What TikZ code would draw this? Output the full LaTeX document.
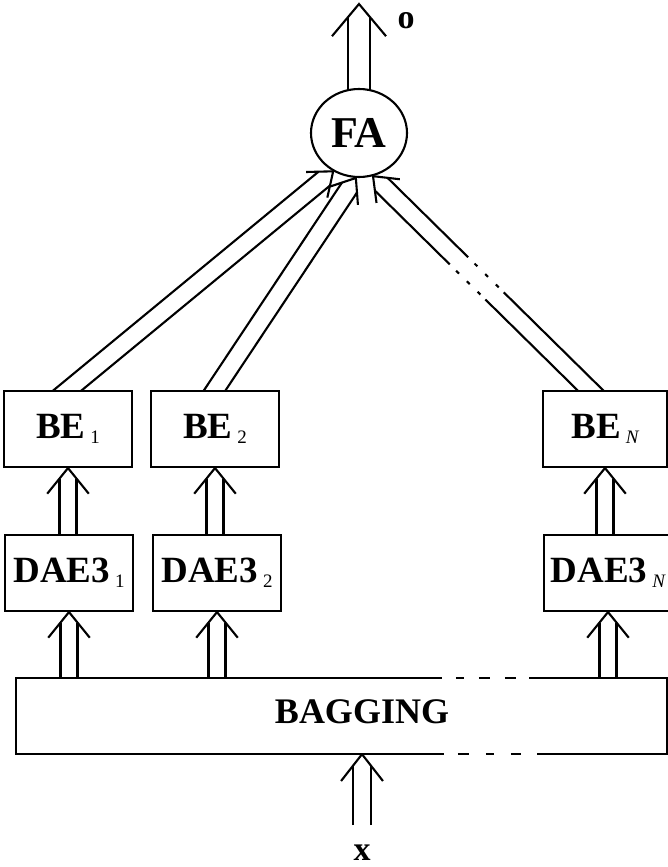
\documentclass[tikz,border=0pt]{standalone}
\usepackage{fontspec}
\setmainfont{Liberation Serif}
\usetikzlibrary{calc,shapes.geometric}
\pgfdeclarelayer{background}
\pgfsetlayers{background,main}
\newcommand\subx[1]{\hspace{5pt}\raisebox{-5pt}{\fontsize{19}{20}\selectfont\mdseries #1}}
% #1 tail, #2 tip, #3 half gap, #4 shaft end from tip, #5 wing length, #6 wing angle, #7/#8 shaft options
\newcommand\hollowarr[8]{%
  \coordinate (hT) at (#1);
  \coordinate (hP) at (#2);
  \coordinate (hJ) at ($(hP)!#4!(hT)$);
  \draw[conn,#7] ($(hT)!#3!90:(hP)$) -- ($(hJ)!#3!-90:(hT)$);
  \draw[conn,#8] ($(hT)!#3!-90:(hP)$) -- ($(hJ)!#3!90:(hT)$);
  \draw[conn] ($(hP)!#5!#6:(hT)$) -- (hP) -- ($(hP)!#5!-#6:(hT)$);
}
\begin{document}
\begin{tikzpicture}[x=1pt,y=-1pt,
  box/.style={draw,line width=2.1pt,fill=white,inner sep=0pt,minimum height=76pt,
    font=\fontsize{37}{40}\selectfont\bfseries},
  conn/.style={line width=2.1pt},
  edge/.style={line width=2.1pt,line cap=rect},
  big/.style={font=\fontsize{36}{40}\selectfont\bfseries},
  lab/.style={font=\fontsize{34}{36}\selectfont\bfseries}]
\useasboundingbox (0,0) rectangle (668,867);

% boxes
\node[box,minimum width=128pt] (be1) at (68,429) {BE\subx{1}};
\node[box,minimum width=128pt] (be2) at (215,429) {BE\subx{2}};
\node[box,minimum width=124pt] (beN) at (605,429) {BE\subx{\itshape N}};
\node[box,minimum width=128pt] (dae1) at (69,573) {DAE3\subx{1}};
\node[box,minimum width=128pt] (dae2) at (217,573) {DAE3\subx{2}};
\node[box,minimum width=128pt] (daeN) at (608,573) {DAE3\subx{\itshape N}};

% bagging block
\node[fill=white,inner sep=0pt,minimum width=651pt,minimum height=76pt] (bag) at (341.5,716) {};
\draw[edge] ($(bag.north west)+(425,0)$) -- (bag.north west) -- (bag.south west) -- ($(bag.south west)+(427,0)$);
\draw[edge] ($(bag.north west)+(514,0)$) -- (bag.north east) -- (bag.south east) -- ($(bag.south west)+(522,0)$);
\draw[conn,dash pattern=on 0pt off 15pt on 8pt off 15pt on 11pt off 15pt on 11pt off 100pt]
  ($(bag.north west)+(425,0)$) -- ($(bag.north west)+(514,0)$);
\draw[conn,dash pattern=on 0pt off 15pt on 11pt off 17pt on 8pt off 17pt on 10pt off 100pt]
  ($(bag.south west)+(427,0)$) -- ($(bag.south west)+(522,0)$);
\node[big] (bagt) at (362,712) {BAGGING};

% fusion
\node[ellipse,draw,line width=2.1pt,fill=white,minimum width=96pt,minimum height=88pt,inner sep=0pt,
  font=\fontsize{44}{48}\selectfont\bfseries] (fa) at (359,133) {FA};

% labels
\node[lab] (olab) at (406,21) {o};
\node[lab] (xlab) at (362,853) {x};
\coordinate (otip) at (359,4);
\coordinate (xt) at (362,825);

\begin{pgfonlayer}{background}
  % output
  \coordinate (ot) at ($(fa.north)!-12pt!(otip)$);
  \hollowarr{ot}{otip}{11pt}{13.1pt}{42pt}{40}{}{}
  % input
  \coordinate (xtip) at (xt |- bag.south);
  \hollowarr{xt}{xtip}{9pt}{11.5pt}{34pt}{38}{}{}
  % bagging -> DAE3
  \hollowarr{dae1.south |- bag.north}{dae1.south}{8.5pt}{10.5pt}{33pt}{39}{}{}
  \hollowarr{dae2.south |- bag.north}{dae2.south}{8.5pt}{10.5pt}{33pt}{39}{}{}
  \hollowarr{daeN.south |- bag.north}{daeN.south}{8.5pt}{10.5pt}{33pt}{39}{}{}
  % DAE3 -> BE
  \hollowarr{be1.south |- dae1.north}{be1.south}{8.5pt}{10.5pt}{33pt}{39}{}{}
  \hollowarr{be2.south |- dae2.north}{be2.south}{8.5pt}{10.5pt}{33pt}{39}{}{}
  \hollowarr{beN.south |- daeN.north}{beN.south}{8.5pt}{10.5pt}{33pt}{39}{}{}
  % BE -> FA
  \coordinate (t1) at ($(be1.north)!-14pt!(fa.236)$);
  \hollowarr{t1}{fa.236}{9pt}{11.5pt}{27pt}{38}{}{}
  \coordinate (t2) at ($(be2.north)!-14pt!(fa.266)$);
  \hollowarr{t2}{fa.266}{9pt}{11.5pt}{27pt}{38}{}{}
  \coordinate (tNs) at ($(beN.north)+(-15,0)$);
  \coordinate (tN) at ($(tNs)!-14pt!(fa.288)$);
  \hollowarr{tN}{fa.288}{9pt}{11.5pt}{27pt}{38}
    {dash pattern=on 152pt off 7pt on 4pt off 11pt on 4pt off 11pt on 4pt off 9pt on 400pt}
    {dash pattern=on 144pt off 7pt on 4pt off 11pt on 4pt off 11pt on 4pt off 9pt on 400pt}
\end{pgfonlayer}
\end{tikzpicture}
\end{document}
